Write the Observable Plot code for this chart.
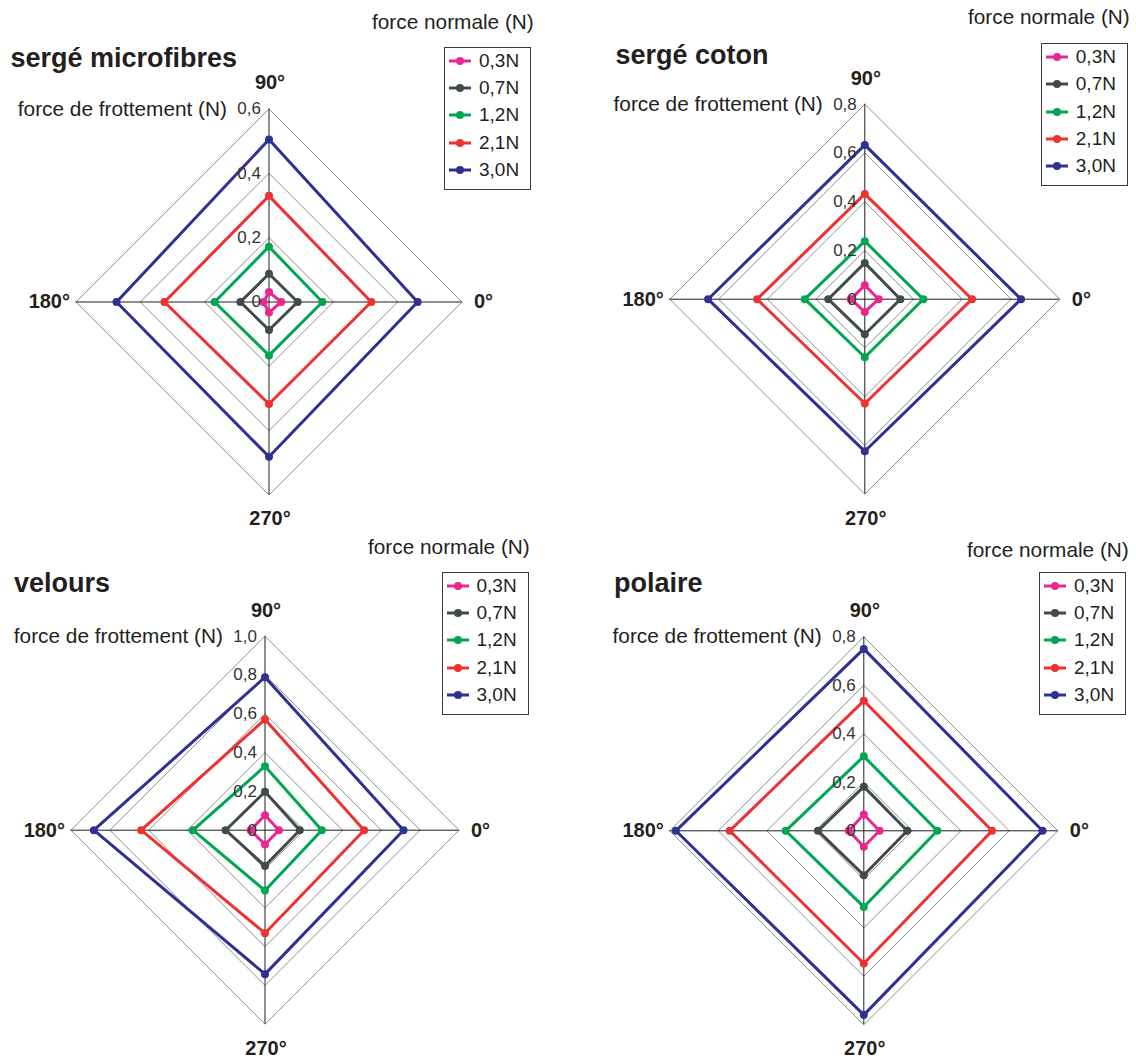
<!DOCTYPE html>
<html><head><meta charset="utf-8">
<script src="https://cdn.jsdelivr.net/npm/d3@7"></script>
<script src="https://cdn.jsdelivr.net/npm/@observablehq/plot@0.6"></script>
<style>
body{margin:0;background:#fff;font-family:"Liberation Sans",Arial,sans-serif;color:#231f20}
#root{position:relative;width:1136px;height:1059px;overflow:hidden}
.abs{position:absolute}
.title{font-weight:bold;font-size:27px;white-space:nowrap;line-height:1}
.fn{font-size:20.8px;white-space:nowrap;line-height:1}
.legend{border:1px solid #3a3a3a;box-sizing:border-box;background:#fff}
.lrow{position:absolute;left:0;height:20px;font-size:19px;line-height:20px;white-space:nowrap}
.lrow svg{position:absolute;left:3px;top:4px}
.lrow span{position:absolute;left:34px;top:0}
</style></head><body><div id="root"></div>
<script>
// ---- data ----
const angles = [0, 90, 180, 270];
const angleLabels = ["0°", "90°", "180°", "270°"];
const forces = ["0,3N", "0,7N", "1,2N", "2,1N", "3,0N"];
const titles = ["sergé microfibres", "sergé coton", "velours", "polaire"];
const legendTitle = "force normale (N)";
const axisTitle = "force de frottement (N)";

// friction force per normal force (rows) at 0°, 90°, 180°, 270°
const sergeMicrofibres = [
  [0.038, 0.031, 0.017, 0.033],
  [0.089, 0.088, 0.089, 0.087],
  [0.166, 0.172, 0.169, 0.166],
  [0.318, 0.330, 0.325, 0.317],
  [0.462, 0.505, 0.474, 0.481]
];
const sergeCoton = [
  [0.057, 0.057, 0.058, 0.052],
  [0.146, 0.149, 0.150, 0.144],
  [0.240, 0.238, 0.246, 0.238],
  [0.440, 0.432, 0.442, 0.428],
  [0.641, 0.633, 0.643, 0.624]
];
const velours = [
  [0.072, 0.077, 0.074, 0.074],
  [0.179, 0.198, 0.203, 0.184],
  [0.293, 0.330, 0.371, 0.311],
  [0.511, 0.571, 0.638, 0.531],
  [0.714, 0.789, 0.882, 0.742]
];
const polaire = [
  [0.065, 0.067, 0.062, 0.066],
  [0.179, 0.182, 0.189, 0.183],
  [0.303, 0.307, 0.322, 0.314],
  [0.529, 0.536, 0.553, 0.547],
  [0.737, 0.750, 0.775, 0.759]
];
const ticksMicrofibres = [0, 0.2, 0.4, 0.6];
const ticksCoton = [0, 0.2, 0.4, 0.6, 0.8];
const ticksVelours = [0, 0.2, 0.4, 0.6, 0.8, 1.0];
const ticksPolaire = [0, 0.2, 0.4, 0.6, 0.8];

// ---- styles / layout ----
const seriesColors = ["#ec268f", "#414a4c", "#00a651", "#ee3131", "#2e3192"];
const FONT = '"Liberation Sans", Arial, sans-serif';
const W = 568, H = 530;
const layout = [
  {left: 0,   top: 0,   cx: 268.5, cy: 301.5, r: 193, titleX: 10.5, titleB: 67.5, fnX: 372, fnB: 29.5, lgX: 444, lgY: 46.7},
  {left: 568, top: 0,   cx: 296.3, cy: 298.7, r: 195, titleX: 47.5, titleB: 64.4, fnX: 400, fnB: 24.5, lgX: 472.8, lgY: 43.2},
  {left: 0,   top: 530, cx: 264.5, cy: 299.7, r: 194, titleX: 14,   titleB: 62.5, fnX: 368, fnB: 25, lgX: 441.5, lgY: 41.7},
  {left: 568, top: 530, cx: 295.3, cy: 300.3, r: 194, titleX: 46,   titleB: 62.5, fnX: 399, fnB: 28, lgX: 471, lgY: 41.7}
];
const panels = [
  {values: sergeMicrofibres, ticks: ticksMicrofibres},
  {values: sergeCoton, ticks: ticksCoton},
  {values: velours, ticks: ticksVelours},
  {values: polaire, ticks: ticksPolaire}
];

const fmt = v => v === 0 ? "0" : d3.format(".1f")(v).replace(".", ",");
const rad = a => a * Math.PI / 180;
const px = (v, a) => v * Math.cos(rad(a));
const py = (v, a) => v * Math.sin(rad(a));

function radar(values, ticks, lay) {
  const max = ticks[ticks.length - 1];
  const pts = [];
  const lineRows = [];
  values.forEach((vals, si) => {
    const s = vals.map((v, ai) => ({force: forces[si], v, angle: angles[ai]}));
    s.forEach(p => pts.push(p));
    s.concat([s[0]]).forEach(p => lineRows.push(p));
  });
  const gridRows = [];
  ticks.filter(t => t > 0).forEach(t => {
    angles.concat([angles[0]]).forEach(a => gridRows.push({t, angle: a}));
  });
  const axisEnds = angles.map((a, i) => ({angle: a, label: angleLabels[i]}));
  const labelMark = (i, opts) => Plot.text([axisEnds[i]], {
    x: d => px(max, d.angle), y: d => py(max, d.angle), text: "label",
    fontSize: 20, fontWeight: "bold", fill: "#231f20", fontFamily: FONT, ...opts
  });
  return Plot.plot({
    width: W, height: H,
    marginLeft: lay.cx - lay.r, marginRight: W - lay.cx - lay.r,
    marginTop: lay.cy - lay.r, marginBottom: H - lay.cy - lay.r,
    x: {domain: [-max, max], axis: null},
    y: {domain: [-max, max], axis: null},
    color: {domain: forces, range: seriesColors},
    style: {fontFamily: FONT, background: "transparent", overflow: "visible"},
    marks: [
      Plot.line(gridRows, {x: d => px(d.t, d.angle), y: d => py(d.t, d.angle), z: "t", stroke: "#8f8f8f", strokeWidth: 1}),
      Plot.ruleY([0], {x1: -max, x2: max, stroke: "#1e1e1e", strokeWidth: 1}),
      Plot.ruleX([0], {y1: -max, y2: max, stroke: "#1e1e1e", strokeWidth: 1}),
      Plot.line(lineRows, {x: d => px(d.v, d.angle), y: d => py(d.v, d.angle), z: "force", stroke: "force", strokeWidth: 3, strokeLinejoin: "miter"}),
      Plot.dot(pts, {x: d => px(d.v, d.angle), y: d => py(d.v, d.angle), fill: "force", r: 4, stroke: "none"}),
      Plot.text(ticks, {x: 0, y: d => d, text: d => fmt(d), textAnchor: "end", dx: -8, fontSize: 17, fill: "#333", fontFamily: FONT}),
      Plot.text([axisTitle], {x: 0, y: max, text: d => d, textAnchor: "end", dx: -42, fontSize: 20.8, fill: "#231f20", fontFamily: FONT}),
      labelMark(0, {textAnchor: "start", dx: 12}),
      labelMark(1, {dy: -26, dx: 1}),
      labelMark(2, {textAnchor: "end", dx: -6}),
      labelMark(3, {dy: 24, dx: 1})
    ]
  });
}

const root = document.getElementById("root");
panels.forEach((p, i) => {
  const lay = layout[i];
  const box = document.createElement("div");
  box.className = "abs";
  box.style.left = lay.left + "px";
  box.style.top = lay.top + "px";
  box.style.width = W + "px";
  box.style.height = H + "px";
  root.appendChild(box);

  const svg = radar(p.values, p.ticks, lay);
  svg.style.position = "absolute";
  svg.style.left = "0px";
  svg.style.top = "0px";
  box.appendChild(svg);

  const t = document.createElement("div");
  t.className = "abs title";
  t.textContent = titles[i];
  t.style.left = lay.titleX + "px";
  t.style.top = (lay.titleB - 0.8465 * 27) + "px";
  box.appendChild(t);

  const fn = document.createElement("div");
  fn.className = "abs fn";
  fn.textContent = legendTitle;
  fn.style.left = lay.fnX + "px";
  fn.style.top = (lay.fnB - 0.8465 * 20.8) + "px";
  box.appendChild(fn);

  const lg = document.createElement("div");
  lg.className = "abs legend";
  lg.style.left = lay.lgX + "px";
  lg.style.top = lay.lgY + "px";
  lg.style.width = "87px";
  lg.style.height = "143px";
  forces.forEach((f, k) => {
    const row = document.createElement("div");
    row.className = "lrow";
    row.style.top = (14 + k * 27.3 - 10 - 1) + "px";
    row.style.width = "85px";
    row.innerHTML = `<svg width="24" height="12"><line x1="1" y1="6" x2="23" y2="6" stroke="${seriesColors[k]}" stroke-width="3"/><circle cx="12" cy="6" r="4" fill="${seriesColors[k]}"/></svg><span>${f}</span>`;
    lg.appendChild(row);
  });
  box.appendChild(lg);
});
</script>
</body></html>
